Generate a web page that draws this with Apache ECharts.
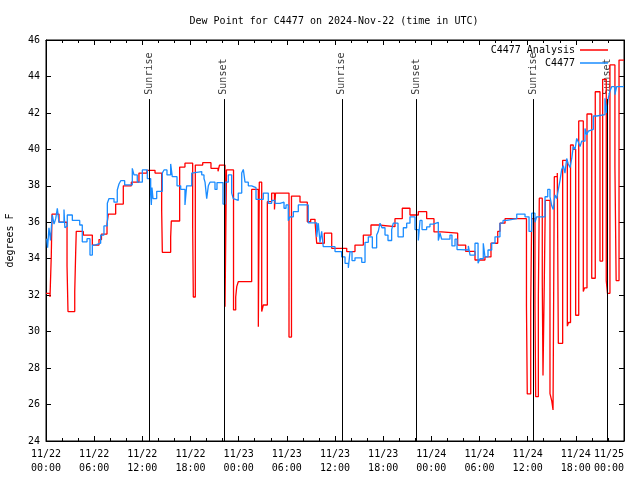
<!DOCTYPE html>
<html>
<head>
<meta charset="utf-8">
<script src="https://cdn.jsdelivr.net/npm/echarts@6/dist/echarts.min.js"></script>
<style>html,body{margin:0;padding:0;background:#fff}#c{width:640px;height:480px}</style>
</head>
<body>
<div id="c"></div>
<script>
// Time in hours since 2024-11-22 00:00 UTC
const analysisT = [0,0.5,0.66,0.75,1.62,2.62,2.74,3.58,3.70,3.77,4.65,5.77,6.60,6.91,7.60,7.76,8.68,9.63,10.63,11.58,12.58,13.58,14.41,14.49,15.53,15.61,16.65,17.31,18.27,18.35,18.60,19.52,20.55,21.43,21.61,22.30,22.48,23.36,23.63,23.76,23.95,25.62,26.45,26.57,26.87,27.07,27.57,28.11,28.46,28.59,30.27,30.58,31.64,32.55,32.97,33.51,33.72,34.67,35.59,37.46,38.49,39.53,40.48,41.39,43.47,44.38,45.34,46.38,47.42,48.33,49.29,51.28,52.28,53.44,54.68,55.43,56.27,56.55,57.18,59.85,59.95,60.38,60.50,60.91,61.00,61.33,61.45,61.82,61.91,62.07,62.20,62.78,63.00,63.16,63.32,63.69,63.82,64.36,64.94,65.09,65.34,65.68,65.98,66.36,66.93,67.08,67.39,67.98,68.42,69.01,69.34,69.79,69.94,70.25,70.87,71.02,71.38,72];
const analysisV = [32.1,31.9,34.2,36.45,36.0,33.6,31.1,32.2,34.4,35.5,35.3,34.75,35.05,35.35,35.9,36.45,37.0,38.0,38.2,38.7,38.85,38.7,36.6,34.35,35.2,36.07,39.03,39.24,35.76,31.9,39.14,39.27,38.96,38.8,39.14,31.37,38.87,31.19,31.9,32.47,32.74,37.8,30.27,38.2,31.1,31.46,37.13,37.6,36.7,37.6,29.7,37.44,37.1,36.03,36.16,36.03,34.85,35.4,34.57,34.39,34.75,35.3,35.85,35.76,36.2,36.77,36.4,36.58,36.2,35.47,35.4,34.75,34.4,33.93,34.1,34.85,35.5,35.95,36.2,31.4,26.58,31.5,36.2,31.4,26.43,31.85,37.32,32.7,27.6,32.7,37.2,26.6,26.2,25.7,38.5,38.7,29.36,39.4,30.3,30.5,40.24,40.0,30.9,41.56,32.2,32.4,41.94,32.93,43.16,33.87,43.84,32.8,32.1,44.63,39.05,32.8,44.9,44.9];

const obsT = [0.09,0.2,0.37,0.56,0.78,1.0,1.21,1.41,1.62,2.24,2.35,2.49,2.65,3.28,4.20,4.52,5.11,5.48,5.77,6.10,6.81,7.22,7.64,7.85,8.47,8.88,9.09,9.31,9.80,10.75,10.96,11.37,12.0,12.62,13.04,13.12,13.2,13.33,13.79,14.49,14.70,15.07,15.53,15.73,16.32,16.78,17.31,17.52,18.15,18.35,19.40,19.68,19.81,20.02,20.22,20.43,21.05,21.30,22.05,22.30,22.71,23.13,23.33,23.54,23.95,24.38,24.58,24.79,25.20,25.62,26.16,27.07,27.69,28.11,28.53,29.15,29.65,29.90,30.18,30.39,30.81,31.43,32.67,33.72,33.92,34.13,34.34,34.54,36.0,36.83,37.25,37.66,37.87,38.12,38.49,39.33,39.74,40.15,40.65,41.19,41.39,41.61,41.85,42.23,42.60,43.06,43.26,43.85,44.51,44.93,45.34,45.97,46.38,46.59,46.84,47.42,47.83,48.25,48.87,49.08,49.29,50.32,50.57,50.95,51.20,51.57,52.61,52.82,53.44,53.82,54.06,54.47,54.68,55.06,55.52,55.93,56.55,56.93,57.39,58.64,59.67,60.17,60.50,60.91,61.12,62.16,62.50,62.78,63.00,63.19,63.40,63.62,63.82,64.03,64.24,64.44,64.65,64.86,65.06,65.27,65.49,65.68,65.90,66.11,66.31,66.52,66.73,67.14,67.35,67.55,67.77,68.18,68.60,69.63,69.84,70.01,70.25,70.46,70.87,71.08,72];
const obsV = [35.1,34.6,35.7,35.0,36.4,35.9,36.2,36.76,36.0,36.7,35.7,35.8,36.4,36.1,35.85,34.93,35.1,34.2,34.75,34.85,35.3,35.8,37.04,37.3,37.1,37.77,38.1,38.28,38.05,38.96,38.6,38.2,38.87,38.4,37.5,36.95,37.9,37.3,37.7,38.7,38.87,38.6,39.2,38.5,38.0,37.8,36.95,38.0,38.7,38.78,38.6,38.4,38.2,37.3,38.0,38.2,37.8,38.18,37.0,38.2,38.6,37.6,37.3,37.2,37.6,38.7,38.9,38.2,38.0,37.9,37.26,37.6,37.04,37.2,37.04,37.1,36.77,36.95,36.08,36.3,36.58,36.95,35.97,35.2,35.95,34.9,35.5,34.66,34.39,34.1,33.75,33.5,34.39,33.9,34.05,33.8,34.9,35.2,34.6,35.3,35.5,35.95,35.7,35.3,35.0,35.6,35.95,35.2,35.7,35.95,36.3,35.6,35.0,36.1,35.6,35.75,35.9,36.0,35.0,35.4,35.07,35.3,34.7,35.07,34.5,34.48,34.7,34.2,34.85,33.75,34.0,34.85,34.1,34.48,34.85,35.2,35.95,36.1,36.2,36.45,36.3,35.5,36.5,36.0,36.3,37.4,37.8,37.4,36.9,36.7,37.5,37.3,37.8,38.3,38.9,39.1,38.7,39.5,39.2,39.0,39.5,40.15,40.0,40.6,40.4,40.15,40.45,41.15,40.8,41.0,41.1,41.83,41.9,42.8,42.0,42.75,43.2,43.44,43.0,43.44,43.44];

const eventT = [12.85,22.15,36.85,46.1,60.75,69.93];
const eventNames = ['Sunrise','Sunset','Sunrise','Sunset','Sunrise','Sunset'];

const xTickLabels = ['11/22\n00:00','11/22\n06:00','11/22\n12:00','11/22\n18:00','11/23\n00:00','11/23\n06:00','11/23\n12:00','11/23\n18:00','11/24\n00:00','11/24\n06:00','11/24\n12:00','11/24\n18:00','11/25\n00:00'];

const FONT = 'DejaVu Sans Mono';
const chart = echarts.init(document.getElementById('c'), null, {renderer: 'canvas'});

const xBase = {
  type: 'value', min: 0, max: 72, interval: 6,
  axisLine: {show: true, onZero: false, lineStyle: {color: '#000', width: 1}},
  axisTick: {show: true, inside: true, length: 5, lineStyle: {color: '#000'}},
  minorTick: {show: true, splitNumber: 3, length: 3, lineStyle: {color: '#000'}},
  splitLine: {show: false}, minorSplitLine: {show: false}
};
const yBase = {
  type: 'value', min: 24, max: 46, interval: 2,
  axisLine: {show: true, onZero: false, lineStyle: {color: '#000', width: 1}},
  axisTick: {show: true, inside: true, length: 5, lineStyle: {color: '#000'}},
  splitLine: {show: false}
};

chart.setOption({
  animation: false,
  backgroundColor: '#fff',
  title: {
    text: 'Dew Point for C4477 on 2024-Nov-22 (time in UTC)',
    left: 329, top: 11, textAlign: 'center',
    textStyle: {fontFamily: FONT, fontSize: 10, fontWeight: 'normal', color: '#000'}
  },
  legend: {
    data: ['C4477 Analysis', 'C4477'],
    orient: 'vertical', align: 'right', right: 27, top: 39,
    icon: 'rect', itemWidth: 28, itemHeight: 1.5, itemGap: 1,
    textStyle: {fontFamily: FONT, fontSize: 10, color: '#000', lineHeight: 12},
    selectedMode: false
  },
  grid: {left: 46, right: 16, top: 40, bottom: 39, show: true, borderColor: '#000', borderWidth: 1,
         containLabel: false, outerBoundsMode: 'none'},
  xAxis: [
    Object.assign({}, xBase, {
      position: 'bottom',
      axisLabel: {
        fontFamily: FONT, fontSize: 10, color: '#000', margin: 6, lineHeight: 14,
        alignMaxLabel: 'right',
        formatter: v => xTickLabels[Math.round(v / 6)]
      }
    }),
    Object.assign({}, xBase, {position: 'top', axisLabel: {show: false}})
  ],
  yAxis: [
    Object.assign({}, yBase, {
      position: 'left',
      name: 'degrees F', nameLocation: 'middle', nameGap: 31, nameRotate: 90,
      nameTextStyle: {fontFamily: FONT, fontSize: 10, color: '#000'},
      axisLabel: {fontFamily: FONT, fontSize: 10, color: '#000', margin: 6}
    }),
    Object.assign({}, yBase, {position: 'right', axisLabel: {show: false}})
  ],
  series: [
    {
      name: 'C4477 Analysis', type: 'line', step: 'end', showSymbol: false, symbol: 'none',
      data: analysisT.map((t, i) => [t, analysisV[i]]),
      lineStyle: {color: '#ff0000', width: 1.3}, itemStyle: {color: '#ff0000'}
    },
    {
      name: 'C4477', type: 'line', step: 'end', showSymbol: false, symbol: 'none',
      data: obsT.map((t, i) => [t, obsV[i]]),
      lineStyle: {color: '#1a8cff', width: 1.3}, itemStyle: {color: '#1a8cff'}
    },
    {
      name: 'events', type: 'scatter', symbolSize: 0, silent: true,
      data: eventT.map((t, i) => ({value: [t, 43.0], name: eventNames[i]})),
      label: {
        show: true, position: 'inside', rotate: 90, align: 'left', verticalAlign: 'middle',
        formatter: p => p.name,
        fontFamily: FONT, fontSize: 10, color: '#000'
      },
      markLine: {
        silent: true, symbol: 'none', animation: false,
        label: {show: false},
        lineStyle: {color: '#000', width: 1, type: 'solid'},
        data: eventT.map(t => [{coord: [t, 24]}, {coord: [t, 42.76]}])
      }
    }
  ]
});
</script>
</body>
</html>
